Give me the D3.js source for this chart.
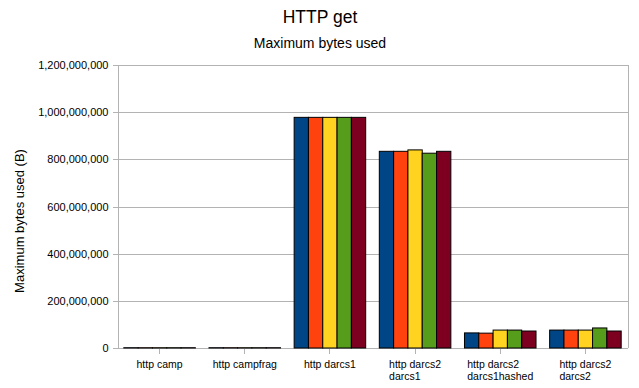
<!DOCTYPE html>
<meta charset="utf-8">
<html>
  <head>
	<title>HTTP get</title>
    <script src="https://d3js.org/d3.v7.min.js" charset="utf-8"></script>
<style>
    body { margin: 0; background: #fff; }
    text {
        font-family: "Liberation Sans", Arial, sans-serif;
        fill: #000;
    }
    .grid line { stroke: #b3b3b3; stroke-width: 1px; }
    .axis path, .axis line { stroke: #b3b3b3; shape-rendering: crispEdges; }
    .bars rect { stroke: #000; stroke-width: 1px; }
</style>
</head>
<body>
<svg width="639" height="388"></svg>

<script>
//___________________________________DATA_______________________________________________________
var categories = ["http camp", "http campfrag", "http darcs1", "http darcs2\ndarcs1", "http darcs2\ndarcs1hashed", "http darcs2\ndarcs2"];
var seriesNames = ["s1", "s2", "s3", "s4", "s5"];
var seriesColors = ["#004586", "#ff420e", "#ffd320", "#579d1c", "#7e0021"];
var s1 = [1200000, 1200000, 978000000, 834000000, 64000000, 76000000];
var s2 = [1200000, 1200000, 978000000, 834000000, 63000000, 76000000];
var s3 = [1200000, 1200000, 978000000, 840000000, 76000000, 76000000];
var s4 = [1200000, 1200000, 978000000, 826000000, 76000000, 85000000];
var s5 = [1200000, 1200000, 978000000, 834000000, 72000000, 72000000];
var yTicks = [0, 200000000, 400000000, 600000000, 800000000, 1000000000, 1200000000];

var allSeries = [s1, s2, s3, s4, s5];

//___________________________________CONSTANTS_______________________________________________________
// note: "top" is taken by window.top, so plot edges get their own names
var svg = d3.select("svg"),
    plotLeft = 117, plotRight = 628, plotTop = 65, plotBottom = 348;

var x0 = d3.scaleBand().domain(categories).range([plotLeft, plotRight]).paddingInner(0.16).paddingOuter(0.08);
var x1 = d3.scaleBand().domain(seriesNames).range([0, x0.bandwidth()]);
var y = d3.scaleLinear().domain([0, 1200000000]).range([plotBottom, plotTop]);
var xc = d3.scaleBand().domain(categories).range([plotLeft, plotRight]);

// titles
svg.append("text").attr("x", 320).attr("y", 23).attr("text-anchor", "middle")
    .style("font-size", "17.5px").text("HTTP get");
svg.append("text").attr("x", 320).attr("y", 48).attr("text-anchor", "middle")
    .style("font-size", "14px").text("Maximum bytes used");

// grid
svg.append("g").attr("class", "grid")
  .selectAll("line").data(yTicks).enter().append("line")
    .attr("x1", plotLeft).attr("x2", plotRight)
    .attr("y1", function(d) { return Math.round(y(d)) + 0.5; })
    .attr("y2", function(d) { return Math.round(y(d)) + 0.5; });

// right border
svg.append("line").attr("x1", plotRight + 0.5).attr("x2", plotRight + 0.5).attr("y1", plotTop).attr("y2", plotBottom)
    .style("stroke", "#b3b3b3");

// y axis
var yAxis = svg.append("g").attr("class", "axis")
    .attr("transform", "translate(" + (plotLeft + 0.5) + ",0)")
    .call(d3.axisLeft(y).tickValues(yTicks).tickFormat(d3.format(",")).tickSize(5).tickPadding(4));
yAxis.selectAll("text").style("font-size", "11px");

// x axis: ticks at category centres
var xAxis = svg.append("g").attr("class", "axis")
    .attr("transform", "translate(0," + (plotBottom + 0.5) + ")")
    .call(d3.axisBottom(xc).tickSize(5).tickFormat(""));
xAxis.select(".domain").attr("d", "M" + plotLeft + ",0H" + plotRight);

// category labels, left aligned lines, block centred under tick
var labels = svg.append("g").selectAll("text").data(categories).enter().append("text")
    .style("font-size", "10.5px");
labels.each(function(d) {
    var t = d3.select(this);
    d.split("\n").forEach(function(line, i) {
        t.append("tspan").attr("dy", i == 0 ? 0 : 12).text(line);
    });
});
labels.each(function(d) {
    var t = d3.select(this);
    var w = 0;
    t.selectAll("tspan").each(function() { w = Math.max(w, this.getComputedTextLength()); });
    var xs = xc(d) + xc.bandwidth() / 2 - w / 2;
    t.attr("y", 368);
    t.selectAll("tspan").attr("x", xs);
});

// y axis title
svg.append("text").attr("transform", "translate(24,221) rotate(-90)")
    .attr("text-anchor", "middle").style("font-size", "13px")
    .text("Maximum bytes used (B)");

// bars
var groups = svg.append("g").attr("class", "bars")
  .selectAll("g").data(categories).enter().append("g")
    .attr("transform", function(d) { return "translate(" + x0(d) + ",0)"; });

groups.selectAll("rect")
    .data(function(d, i) { return allSeries.map(function(s, j) { return {k: seriesNames[j], v: s[i], c: seriesColors[j]}; }); })
    .enter().append("rect")
      .attr("x", function(d) { return x1(d.k); })
      .attr("width", x1.bandwidth())
      .attr("y", function(d) { return y(d.v); })
      .attr("height", function(d) { return plotBottom - y(d.v); })
      .attr("fill", function(d) { return d.c; });
</script>
    </body>
</html>
